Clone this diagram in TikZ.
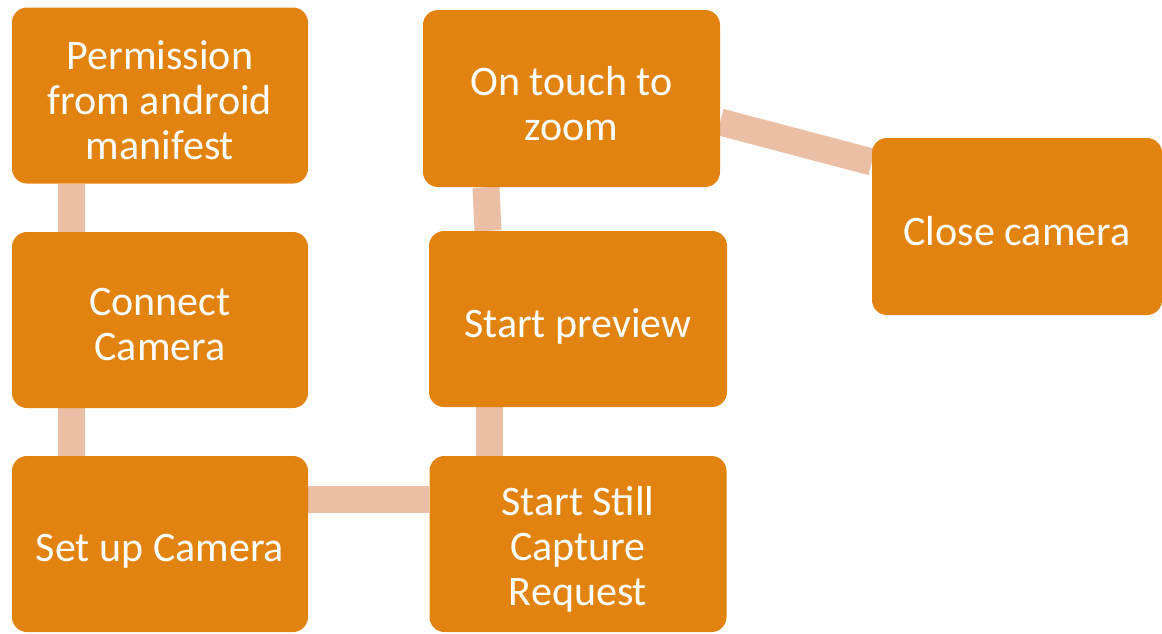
\documentclass[tikz,border=0pt]{standalone}
\usepackage{fontspec}
\setmainfont{Carlito}
\usetikzlibrary{backgrounds}
\definecolor{boxorange}{HTML}{E2830F}
\definecolor{connsalmon}{HTML}{EBBEA6}
\tikzset{
  stepbox/.style={rectangle, rounded corners=15pt, fill=boxorange, draw=none, inner sep=0pt},
  steptext/.style={text=white, align=center, inner sep=0pt, yshift=-5pt,
    font=\fontsize{42}{45}\selectfont},
  onetext/.style={steptext, yshift=1pt, text depth=0pt},
  conn/.style={draw=connsalmon, line width=27pt, line cap=butt}
}
\begin{document}
\begin{tikzpicture}[x=1pt,y=-1pt]
\useasboundingbox (0,0) rectangle (1162,633);
\node[stepbox, minimum width=296pt, minimum height=176pt,
  label={[steptext]center:Permission\\from android\\manifest}] (b1) at (160,95.5) {};
\node[stepbox, minimum width=296pt, minimum height=176pt,
  label={[steptext]center:Connect\\Camera}] (b2) at (160,320) {};
\node[stepbox, minimum width=296pt, minimum height=176pt,
  label={[onetext]center:Set up Camera}] (b3) at (160,544) {};
\node[stepbox, minimum width=297pt, minimum height=176pt,
  label={[steptext]center:Start Still\\Capture\\Request}] (b4) at (578,544) {};
\node[stepbox, minimum width=298pt, minimum height=176pt,
  label={[onetext]center:Start preview}] (b5) at (578,319) {};
\node[stepbox, minimum width=297pt, minimum height=177pt,
  label={[steptext]center:On touch to\\zoom}] (b6) at (571.5,98.5) {};
\node[stepbox, minimum width=290pt, minimum height=177pt,
  label={[onetext]center:Close camera}] (b7) at (1017,226.5) {};
\begin{scope}[on background layer]
\draw[conn] ([xshift=-89pt]b1.south) -- ([xshift=-89pt]b2.north);
\draw[conn] ([xshift=-89pt]b2.south) -- ([xshift=-89pt]b3.north);
\draw[conn] ([yshift=45pt]b3.east) -- ([yshift=45pt]b4.west);
\draw[conn] ([xshift=-89pt]b4.north) -- ([xshift=-89pt]b5.south);
\draw[conn] ([xshift=-90pt]b5.north) -- ([xshift=-85.5pt]b6.south);
\draw[conn] ([yshift=-23.5pt]b6.east) -- ([yshift=64.5pt]b7.west);
\end{scope}
\end{tikzpicture}
\end{document}
